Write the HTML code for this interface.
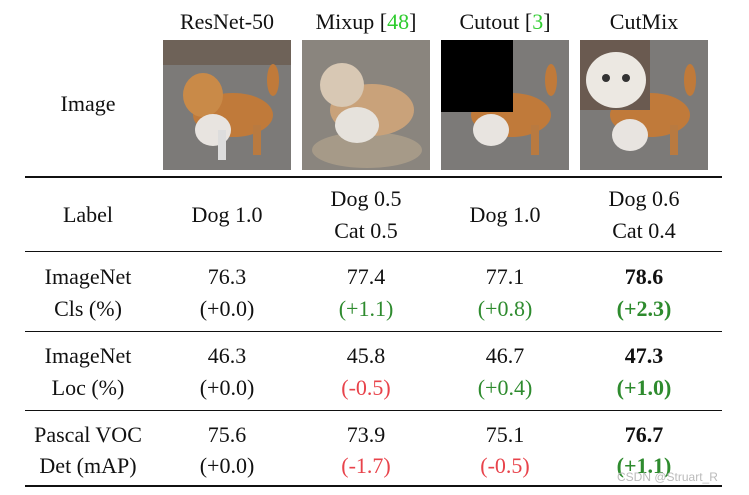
<!DOCTYPE html>
<html><head><meta charset="utf-8">
<style>
html,body{margin:0;padding:0;background:#fff;}
body{width:749px;height:495px;position:relative;overflow:hidden;font-family:"Liberation Serif",serif;color:#111;}
.t{position:absolute;font-size:22px;white-space:nowrap;transform:translate(-50%,-50%);line-height:1;}
.g{color:#2e8b2e}.r{color:#e8434b}.b{font-weight:bold}
.hl{position:absolute;left:25px;width:697px;background:#111;}
.img{position:absolute;top:40px;width:128px;height:130px;}
</style></head><body>
<div class="t" style="left:227px;top:22px">ResNet-50</div>
<div class="t" style="left:366px;top:22px">Mixup [<span style="color:#2ecc2e">48</span>]</div>
<div class="t" style="left:505px;top:22px">Cutout [<span style="color:#2ecc2e">3</span>]</div>
<div class="t" style="left:644px;top:22px">CutMix</div>
<div class="t" style="left:88px;top:104px">Image</div>

<svg class="img" style="left:163px" viewBox="0 0 128 130">
<rect width="128" height="130" fill="#7c7a78"/><rect y="0" width="128" height="25" fill="#6e6258"/>
<ellipse cx="70" cy="75" rx="40" ry="22" fill="#c07a3a"/><ellipse cx="40" cy="55" rx="20" ry="22" fill="#c98a48"/>
<ellipse cx="50" cy="90" rx="18" ry="16" fill="#e8e4e0"/><rect x="55" y="90" width="8" height="30" fill="#ddd"/><rect x="90" y="85" width="8" height="30" fill="#b97a40"/>
<ellipse cx="110" cy="40" rx="6" ry="16" fill="#c07a3a"/></svg>
<svg class="img" style="left:302px" viewBox="0 0 128 130">
<rect width="128" height="130" fill="#8a857e"/><ellipse cx="65" cy="110" rx="55" ry="18" fill="#a69a88"/>
<ellipse cx="70" cy="70" rx="42" ry="26" fill="#c9a27a"/><ellipse cx="40" cy="45" rx="22" ry="22" fill="#d8c8b4"/>
<ellipse cx="55" cy="85" rx="22" ry="18" fill="#e6e2dc"/></svg>
<svg class="img" style="left:441px" viewBox="0 0 128 130">
<rect width="128" height="130" fill="#7c7a78"/><ellipse cx="70" cy="75" rx="40" ry="22" fill="#c07a3a"/>
<ellipse cx="50" cy="90" rx="18" ry="16" fill="#e8e4e0"/><rect x="90" y="85" width="8" height="30" fill="#b97a40"/>
<ellipse cx="110" cy="40" rx="6" ry="16" fill="#c07a3a"/><rect width="72" height="72" fill="#000"/></svg>
<svg class="img" style="left:580px" viewBox="0 0 128 130">
<rect width="128" height="130" fill="#7c7a78"/><ellipse cx="70" cy="75" rx="40" ry="22" fill="#c07a3a"/>
<ellipse cx="50" cy="95" rx="18" ry="16" fill="#e8e4e0"/><rect x="90" y="85" width="8" height="30" fill="#b97a40"/>
<ellipse cx="110" cy="40" rx="6" ry="16" fill="#c07a3a"/><rect width="70" height="70" fill="#6a5a50"/>
<ellipse cx="36" cy="40" rx="30" ry="28" fill="#ece8e2"/><circle cx="26" cy="38" r="4" fill="#333"/><circle cx="46" cy="38" r="4" fill="#333"/></svg>

<div class="hl" style="top:176px;height:2px"></div>
<div class="hl" style="top:251px;height:1px"></div>
<div class="hl" style="top:331px;height:1px"></div>
<div class="hl" style="top:410px;height:1px"></div>
<div class="hl" style="top:485px;height:2px"></div>

<div class="t" style="left:88px;top:215px">Label</div>
<div class="t" style="left:227px;top:215px">Dog 1.0</div>
<div class="t" style="left:366px;top:199px">Dog 0.5</div>
<div class="t" style="left:366px;top:231px">Cat 0.5</div>
<div class="t" style="left:505px;top:215px">Dog 1.0</div>
<div class="t" style="left:644px;top:199px">Dog 0.6</div>
<div class="t" style="left:644px;top:231px">Cat 0.4</div>

<div class="t" style="left:88px;top:277px">ImageNet</div>
<div class="t" style="left:88px;top:309px">Cls (%)</div>
<div class="t" style="left:227px;top:277px">76.3</div>
<div class="t" style="left:227px;top:309px">(+0.0)</div>
<div class="t" style="left:366px;top:277px">77.4</div>
<div class="t g" style="left:366px;top:309px">(+1.1)</div>
<div class="t" style="left:505px;top:277px">77.1</div>
<div class="t g" style="left:505px;top:309px">(+0.8)</div>
<div class="t b" style="left:644px;top:277px">78.6</div>
<div class="t g b" style="left:644px;top:309px">(+2.3)</div>

<div class="t" style="left:88px;top:356px">ImageNet</div>
<div class="t" style="left:88px;top:388px">Loc (%)</div>
<div class="t" style="left:227px;top:356px">46.3</div>
<div class="t" style="left:227px;top:388px">(+0.0)</div>
<div class="t" style="left:366px;top:356px">45.8</div>
<div class="t r" style="left:366px;top:388px">(-0.5)</div>
<div class="t" style="left:505px;top:356px">46.7</div>
<div class="t g" style="left:505px;top:388px">(+0.4)</div>
<div class="t b" style="left:644px;top:356px">47.3</div>
<div class="t g b" style="left:644px;top:388px">(+1.0)</div>

<div class="t" style="left:88px;top:435px">Pascal VOC</div>
<div class="t" style="left:88px;top:466px">Det (mAP)</div>
<div class="t" style="left:227px;top:435px">75.6</div>
<div class="t" style="left:227px;top:466px">(+0.0)</div>
<div class="t" style="left:366px;top:435px">73.9</div>
<div class="t r" style="left:366px;top:466px">(-1.7)</div>
<div class="t" style="left:505px;top:435px">75.1</div>
<div class="t r" style="left:505px;top:466px">(-0.5)</div>
<div class="t b" style="left:644px;top:435px">76.7</div>
<div class="t g b" style="left:644px;top:466px">(+1.1)</div>

<div style="position:absolute;left:617px;top:470px;font-family:'Liberation Sans',sans-serif;font-size:12px;color:#bbb">CSDN @Struart_R</div>
</body></html>
